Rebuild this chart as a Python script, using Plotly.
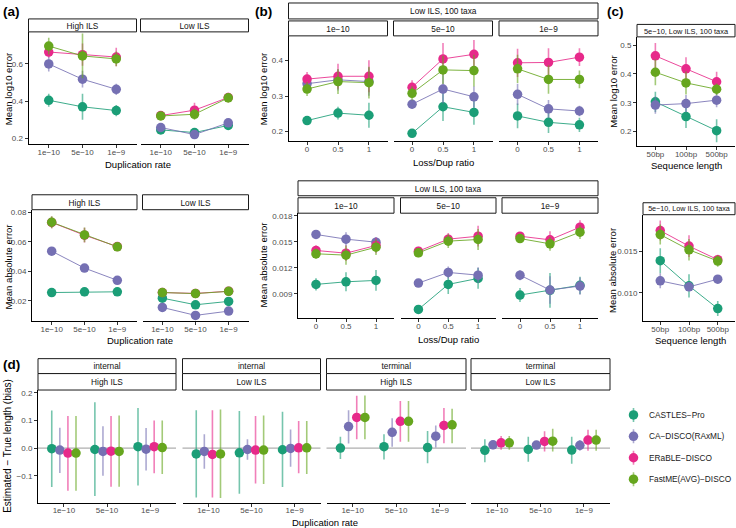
import numpy as np
import plotly.graph_objects as go

W, H = 736, 528
FONT = "Liberation Sans, Arial, sans-serif"

methods = ["CASTLES−Pro", "CA−DISCO(RAxML)", "ERaBLE−DISCO", "FastME(AVG)−DISCO"]
colors = ["#1B9E77", "#7570B3", "#E7298A", "#66A61E"]
dup_rates = ["1e−10", "5e−10", "1e−9"]
loss_dup = ["0", "0.5", "1"]
seq_lengths = ["50bp", "100bp", "500bp"]

# ---- (a) rows = methods, cols = duplication rates
a_log_high = [[0.405, 0.370, 0.350], [0.600, 0.518, 0.464], [0.664, 0.650, 0.637], [0.696, 0.643, 0.627]]
a_log_high_err = [[0.035, 0.07, 0.03], [0.04, 0.045, 0.03], [0.03, 0.06, 0.05], [0.045, 0.12, 0.04]]
a_log_low = [[0.246, 0.232, 0.270], [0.259, 0.221, 0.284], [0.323, 0.352, 0.420], [0.321, 0.330, 0.418]]
a_log_low_err = [[0.015, 0.02, 0.02], [0.02, 0.02, 0.02], [0.015, 0.04, 0.025], [0.02, 0.03, 0.025]]
a_abs_high = [[0.0256, 0.0261, 0.0261], [0.0537, 0.0422, 0.0339], [0.0732, 0.0645, 0.0568], [0.0733, 0.0647, 0.0566]]
a_abs_high_err = [[0.001, 0.003, 0.002], [0.002, 0.002, 0.001], [0.004, 0.005, 0.002], [0.004, 0.005, 0.002]]
a_abs_low = [[0.0218, 0.0173, 0.0196], [0.0155, 0.0101, 0.0130], [0.0256, 0.0250, 0.0265], [0.0256, 0.0249, 0.0264]]
a_abs_low_err = [[0.001, 0.001, 0.001], [0.001, 0.001, 0.001], [0.001, 0.001, 0.001], [0.001, 0.001, 0.001]]

# ---- (b) rows = methods, cols = loss/dup ratio, one block per dup rate
b_log_1e10 = [[0.231, 0.252, 0.246], [0.335, 0.346, 0.341], [0.348, 0.356, 0.356], [0.320, 0.341, 0.338]]
b_log_1e10_err = [[0.012, 0.018, 0.035], [0.015, 0.03, 0.04], [0.02, 0.035, 0.045], [0.02, 0.035, 0.045]]
b_log_5e10 = [[0.195, 0.270, 0.254], [0.277, 0.320, 0.298], [0.325, 0.405, 0.418], [0.308, 0.374, 0.372]]
b_log_5e10_err = [[0.006, 0.04, 0.035], [0.012, 0.04, 0.03], [0.02, 0.045, 0.04], [0.02, 0.04, 0.045]]
b_log_1e9 = [[0.244, 0.226, 0.219], [0.305, 0.264, 0.258], [0.394, 0.395, 0.410], [0.377, 0.347, 0.347]]
b_log_1e9_err = [[0.035, 0.03, 0.02], [0.03, 0.025, 0.015], [0.04, 0.04, 0.025], [0.04, 0.04, 0.025]]

b_abs_1e10 = [[0.01008, 0.01038, 0.01054], [0.01585, 0.01531, 0.01496], [0.01400, 0.01369, 0.01458], [0.01362, 0.01346, 0.01438]]
b_abs_1e10_err = [[0.0007, 0.0011, 0.0012], [0.0005, 0.0008, 0.0006], [0.0006, 0.0009, 0.0009], [0.0006, 0.0011, 0.0009]]
b_abs_5e10 = [[0.00719, 0.01008, 0.01077], [0.01023, 0.01146, 0.01115], [0.01392, 0.01531, 0.01565], [0.01373, 0.01508, 0.01527]]
b_abs_5e10_err = [[0.0004, 0.0011, 0.0012], [0.0004, 0.0007, 0.0009], [0.0005, 0.0007, 0.0012], [0.0005, 0.0008, 0.0012]]
b_abs_1e9 = [[0.00885, 0.00939, 0.00997], [0.01115, 0.00943, 0.00989], [0.01565, 0.01523, 0.01670], [0.01538, 0.01477, 0.01612]]
b_abs_1e9_err = [[0.0008, 0.0020, 0.0010], [0.0006, 0.0016, 0.0010], [0.0005, 0.0010, 0.0008], [0.0005, 0.0008, 0.0008]]

# ---- (c) rows = methods, cols = sequence length
c_log = [[0.303, 0.252, 0.203], [0.292, 0.297, 0.309], [0.463, 0.418, 0.373], [0.406, 0.369, 0.347]]
c_log_err = [[0.035, 0.04, 0.04], [0.03, 0.03, 0.025], [0.045, 0.04, 0.035], [0.045, 0.04, 0.02]]
c_abs = [[0.01385, 0.01083, 0.00810], [0.01143, 0.01071, 0.01163], [0.01746, 0.01560, 0.01397], [0.01698, 0.01516, 0.01381]]
c_abs_err = [[0.0015, 0.0014, 0.0009], [0.0009, 0.0004, 0.0005], [0.0012, 0.0013, 0.0006], [0.0012, 0.0013, 0.0007]]

# ---- (d) bias: mean, lower, upper; rows = methods, cols = duplication rates
d_int_high_mean = [[-0.002, -0.005, 0.005], [-0.007, -0.012, -0.004], [-0.018, -0.011, 0.005], [-0.018, -0.012, 0.002]]
d_int_high_lo = [[-0.141, -0.173, -0.135], [-0.090, -0.100, -0.081], [-0.154, -0.140, -0.091], [-0.154, -0.140, -0.094]]
d_int_high_hi = [[0.136, 0.166, 0.145], [0.074, 0.079, 0.073], [0.116, 0.116, 0.100], [0.116, 0.118, 0.100]]
d_int_low_mean = [[-0.021, -0.017, -0.006], [-0.012, -0.005, -0.001], [-0.023, -0.007, 0.001], [-0.021, -0.007, 0.001]]
d_int_low_lo = [[-0.179, -0.165, -0.141], [-0.075, -0.042, -0.067], [-0.179, -0.128, -0.091], [-0.180, -0.130, -0.094]]
d_int_low_hi = [[0.137, 0.134, 0.131], [0.050, 0.032, 0.067], [0.137, 0.116, 0.098], [0.140, 0.118, 0.098]]
d_term_high_mean = [[0.000, 0.005, 0.002], [0.078, 0.057, 0.043], [0.111, 0.097, 0.082], [0.111, 0.097, 0.084]]
d_term_high_lo = [[-0.039, -0.041, -0.055], [0.017, 0.005, 0.002], [0.032, 0.023, 0.018], [0.032, 0.023, 0.018]]
d_term_high_hi = [[0.041, 0.050, 0.062], [0.137, 0.108, 0.082], [0.189, 0.170, 0.145], [0.190, 0.170, 0.142]]
d_term_low_mean = [[-0.008, -0.005, -0.007], [0.012, 0.011, 0.010], [0.019, 0.024, 0.029], [0.019, 0.025, 0.029]]
d_term_low_lo = [[-0.051, -0.049, -0.057], [-0.004, 0.000, -0.010], [-0.006, -0.012, -0.010], [-0.006, -0.012, -0.010]]
d_term_low_hi = [[0.032, 0.041, 0.041], [0.026, 0.019, 0.029], [0.044, 0.061, 0.066], [0.044, 0.070, 0.066]]


def rgba(hexc, a):
    h = hexc.lstrip("#")
    return f"rgba({int(h[0:2],16)},{int(h[2:4],16)},{int(h[4:6],16)},{a})"


fig = go.Figure()
axes = {}
shapes = []
annots = []
counter = [0]


def add_axes(box, yrange, cats, yticks, show_y=True):
    x0, x1, y0, y1 = box
    counter[0] += 1
    n = counter[0]
    s = "" if n == 1 else str(n)
    axes[f"xaxis{s}"] = dict(
        domain=[x0 / W, x1 / W], anchor=f"y{s}", range=[-0.6, len(cats) - 0.4],
        tickvals=list(range(len(cats))), ticktext=cats, showline=True, linecolor="black",
        linewidth=1, ticks="outside", ticklen=3, tickwidth=1, tickcolor="#333333",
        ticklabelstandoff=-3,
        tickfont=dict(size=8, color="#4D4D4D", family=FONT), showgrid=False, zeroline=False,
        fixedrange=True)
    axes[f"yaxis{s}"] = dict(
        domain=[1 - y1 / H, 1 - y0 / H], anchor=f"x{s}", range=yrange,
        showline=show_y, linecolor="black", linewidth=1,
        ticks="outside" if show_y else "", ticklen=3, tickwidth=1, tickcolor="#333333",
        showticklabels=show_y, tickvals=yticks[0], ticktext=yticks[1],
        tickfont=dict(size=8, color="#4D4D4D", family=FONT), showgrid=False, zeroline=False,
        fixedrange=True)
    return f"x{s}", f"y{s}"


def strip(x0, x1, y0, y1, text, size=8.3):
    shapes.append(dict(type="rect", xref="paper", yref="paper", x0=x0 / W, x1=x1 / W,
                       y0=1 - y1 / H, y1=1 - y0 / H, line=dict(color="#1A1A1A", width=1),
                       fillcolor="white", layer="above",
                       label=dict(text=text, textposition="middle center",
                                  font=dict(size=size, color="#111111", family=FONT))))


def label(x, y, text, size=9.5, angle=0, bold=False, xanchor="center", color="black"):
    annots.append(dict(text=f"<b>{text}</b>" if bold else text, x=x / W, y=1 - y / H,
                       xref="paper", yref="paper", showarrow=False, xanchor=xanchor,
                       yanchor="middle", textangle=angle,
                       font=dict(size=size, color=color, family=FONT)))


def lines_panel(xa, ya, means, errs):
    for m in range(len(methods)):
        fig.add_trace(go.Scatter(
            x=np.arange(len(means[m])), y=means[m], mode="lines+markers",
            line=dict(color=rgba(colors[m], 0.85), width=1),
            marker=dict(color=colors[m], size=9.5, line=dict(width=0)),
            error_y=dict(type="data", array=errs[m], color=rgba(colors[m], 0.6),
                         thickness=1.6, width=0),
            xaxis=xa, yaxis=ya, showlegend=False, hoverinfo="skip"))


def dodge_panel(xa, ya, means, lo, hi):
    n = len(methods)
    for m in range(n):
        off = (m - (n - 1) / 2) * 0.75 / n
        mu = np.array(means[m])
        fig.add_trace(go.Scatter(
            x=np.arange(len(mu)) + off, y=mu, mode="markers",
            marker=dict(color=colors[m], size=9.5, line=dict(width=0)),
            error_y=dict(type="data", symmetric=False, array=list(np.array(hi[m]) - mu),
                         arrayminus=list(mu - np.array(lo[m])), color=rgba(colors[m], 0.6),
                         thickness=1.6, width=0),
            xaxis=xa, yaxis=ya, showlegend=False, hoverinfo="skip"))


# ================= (a) top
t_a1 = ([0.2, 0.4, 0.6], ["0.2", "0.4", "0.6"])
xa, ya = add_axes((28.5, 136.5, 30, 143), [0.168, 0.772], dup_rates, t_a1, True)
lines_panel(xa, ya, a_log_high, a_log_high_err)
strip(28.5, 136.5, 17, 30, "High ILS")
xa, ya = add_axes((140.5, 248.5, 30, 143), [0.168, 0.772], dup_rates, t_a1, False)
lines_panel(xa, ya, a_log_low, a_log_low_err)
strip(140.5, 248.5, 17, 30, "Low ILS")
label(8.5, 88, "Mean log10 error", angle=-90)
label(138, 163, "Duplication rate")
label(1, 10, "(a)", size=13.5, bold=True, xanchor="left")

# ================= (a) bottom
t_a2 = ([0.02, 0.04, 0.06, 0.08], ["0.02", "0.04", "0.06", "0.08"])
xa, ya = add_axes((32, 137, 208.5, 320.5), [0.0061, 0.0818], dup_rates, t_a2, True)
lines_panel(xa, ya, a_abs_high, a_abs_high_err)
strip(32, 137, 193.5, 208.5, "High ILS")
xa, ya = add_axes((142.5, 248.5, 208.5, 320.5), [0.0061, 0.0818], dup_rates, t_a2, False)
lines_panel(xa, ya, a_abs_low, a_abs_low_err)
strip(142.5, 248.5, 193.5, 208.5, "Low ILS")
label(8.5, 266, "Mean absolute error", angle=-90)
label(140, 340, "Duplication rate")

# ================= (b) top
t_b1 = ([0.2, 0.3, 0.4], ["0.2", "0.3", "0.4"])
b_top_boxes = [(288.5, 387.5), (393.5, 492.5), (499, 598)]
b_top_data = [(b_log_1e10, b_log_1e10_err), (b_log_5e10, b_log_5e10_err), (b_log_1e9, b_log_1e9_err)]
for i, ((x0, x1), (mu, er)) in enumerate(zip(b_top_boxes, b_top_data)):
    xa, ya = add_axes((x0, x1, 34, 140), [0.172, 0.470], loss_dup, t_b1, i == 0)
    lines_panel(xa, ya, mu, er)
    strip(x0, x1, 19, 34, dup_rates[i])
strip(288.5, 598, 1, 17, "Low ILS, 100 taxa")
label(263.5, 88, "Mean log10 error", angle=-90)
label(443, 161, "Loss/Dup ratio")
label(253, 10, "(b)", size=13.5, bold=True, xanchor="left")

# ================= (b) bottom
t_b2 = ([0.009, 0.012, 0.015, 0.018], ["0.009", "0.012", "0.015", "0.018"])
b_bot_boxes = [(298, 394), (400.5, 496), (502, 598)]
b_bot_data = [(b_abs_1e10, b_abs_1e10_err), (b_abs_5e10, b_abs_5e10_err), (b_abs_1e9, b_abs_1e9_err)]
for i, ((x0, x1), (mu, er)) in enumerate(zip(b_bot_boxes, b_bot_data)):
    xa, ya = add_axes((x0, x1, 212, 317.5), [0.00616, 0.01831], loss_dup, t_b2, i == 0)
    lines_panel(xa, ya, mu, er)
    strip(x0, x1, 196.5, 212, dup_rates[i])
strip(298, 598, 179.5, 194.5, "Low ILS, 100 taxa")
label(262.5, 264, "Mean absolute error", angle=-90)
label(448, 339, "Loss/Dup ratio")

# ================= (c) top
t_c1 = ([0.2, 0.3, 0.4, 0.5], ["0.2", "0.3", "0.4", "0.5"])
xa, ya = add_axes((637, 735, 35, 145), [0.148, 0.529], seq_lengths, t_c1, True)
lines_panel(xa, ya, c_log, c_log_err)
strip(637, 735, 22.5, 35, "5e−10, Low ILS, 100 taxa", size=7.4)
label(614, 90, "Mean log10 error", angle=-90)
label(686, 164, "Sequence length")
label(605, 10, "(c)", size=13.5, bold=True, xanchor="left")

# ================= (c) bottom
t_c2 = ([0.010, 0.015], ["0.010", "0.015"])
xa, ya = add_axes((643, 735, 213.5, 320.5), [0.00658, 0.01937], seq_lengths, t_c2, True)
lines_panel(xa, ya, c_abs, c_abs_err)
strip(643, 735, 201.5, 213.5, "5e−10, Low ILS, 100 taxa", size=7.2)
label(613, 270, "Mean absolute error", angle=-90)
label(690, 340, "Sequence length")

# ================= (d)
t_d = ([-0.1, 0.0, 0.1, 0.2], ["−0.1", "0.0", "0.1", "0.2"])
d_boxes = [(38, 176), (182.5, 320.5), (326.5, 466), (471, 610)]
d_top_strips = ["internal", "internal", "terminal", "terminal"]
d_bot_strips = ["High ILS", "Low ILS", "High ILS", "Low ILS"]
d_data = [(d_int_high_mean, d_int_high_lo, d_int_high_hi),
          (d_int_low_mean, d_int_low_lo, d_int_low_hi),
          (d_term_high_mean, d_term_high_lo, d_term_high_hi),
          (d_term_low_mean, d_term_low_lo, d_term_low_hi)]
for i, ((x0, x1), (mu, lo, hi)) in enumerate(zip(d_boxes, d_data)):
    xa, ya = add_axes((x0, x1, 389.5, 502.5), [-0.197, 0.210], dup_rates, t_d, i == 0)
    shapes.append(dict(type="line", xref=f"{xa} domain", yref=ya, x0=0, x1=1, y0=0, y1=0,
                       line=dict(color="#9A9A9A", width=1), layer="below"))
    dodge_panel(xa, ya, mu, lo, hi)
    strip(x0, x1, 358, 373, d_top_strips[i])
    strip(x0, x1, 373, 389.5, d_bot_strips[i])
label(7.5, 446, "Estimated − True length (bias)", angle=-90, size=10)
label(325, 522, "Duplication rate")
label(1, 364, "(d)", size=13.5, bold=True, xanchor="left")

# ================= legend (drawn on a hidden axis in pixel units)
counter[0] += 1
s = str(counter[0])
axes[f"xaxis{s}"] = dict(domain=[620 / W, 736 / W], anchor=f"y{s}", range=[620, 736], visible=False,
                         fixedrange=True)
axes[f"yaxis{s}"] = dict(domain=[1 - 495 / H, 1 - 400 / H], anchor=f"x{s}", range=[495, 400],
                         visible=False, fixedrange=True)
leg_x, leg_y0, leg_dy = 633.5, 414.5, 21.5
for m in range(len(methods)):
    yy = leg_y0 + m * leg_dy
    fig.add_trace(go.Scatter(
        x=[leg_x], y=[yy], mode="markers",
        marker=dict(color=colors[m], size=9.5, line=dict(width=0)),
        error_y=dict(type="constant", value=7, color=rgba(colors[m], 0.6), thickness=1.6, width=0),
        xaxis=f"x{s}", yaxis=f"y{s}", showlegend=False, hoverinfo="skip"))
    label(647, yy, methods[m], size=8.3, xanchor="left", color="#1A1A1A")

fig.update_layout(
    width=W, height=H, margin=dict(l=0, r=0, t=0, b=0),
    paper_bgcolor="white", plot_bgcolor="white",
    font=dict(family=FONT, color="black"),
    showlegend=False, shapes=shapes, annotations=annots, **axes)

fig.write_html("out.html")
